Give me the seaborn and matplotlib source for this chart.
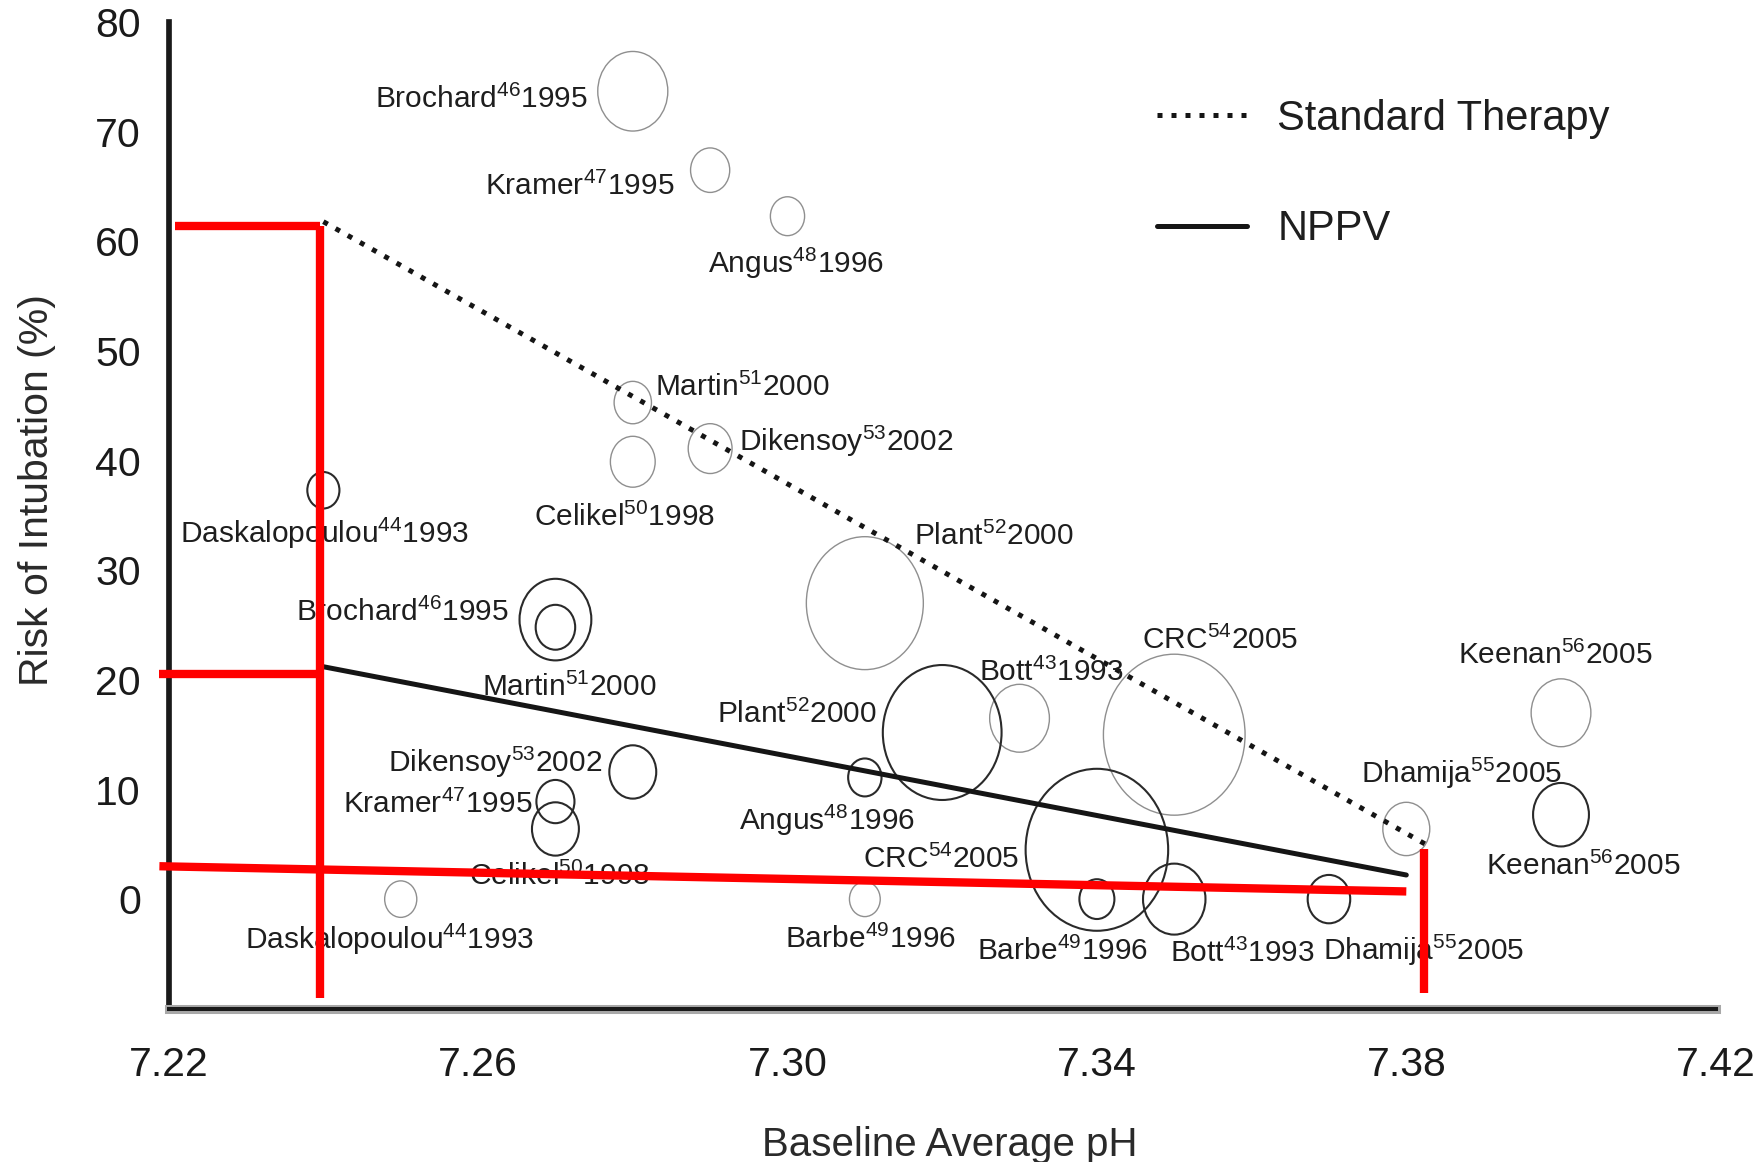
import numpy as np
import pandas as pd
import matplotlib
matplotlib.use("Agg")
import matplotlib.pyplot as plt
import matplotlib.patheffects as pe
from matplotlib.path import Path
from matplotlib.markers import MarkerStyle
from matplotlib.transforms import Affine2D
import seaborn as sns

# --- data ---
std_study = ["Brochard$^{46}$1995", "Kramer$^{47}$1995", "Angus$^{48}$1996",
             "Martin$^{51}$2000", "Dikensoy$^{53}$2002", "Celikel$^{50}$1998",
             "Plant$^{52}$2000", "Bott$^{43}$1993", "CRC$^{54}$2005",
             "Keenan$^{56}$2005", "Dhamija$^{55}$2005", "Barbe$^{49}$1996",
             "Daskalopoulou$^{44}$1993"]
std_ph = [7.28, 7.29, 7.30, 7.28, 7.29, 7.28, 7.31, 7.33, 7.35, 7.40, 7.38, 7.31, 7.25]
std_risk = [73.7, 66.5, 62.3, 45.3, 41.1, 39.9, 27.0, 16.5, 15.0, 17.0, 6.4, 0.0, 0.0]
std_n = [176, 55, 42, 50, 69, 72, 491, 128, 720, 128, 79, 34, 37]

nppv_study = ["Brochard$^{46}$1995", "Martin$^{51}$2000", "Dikensoy$^{53}$2002",
              "Kramer$^{47}$1995", "Celikel$^{50}$1998", "Angus$^{48}$1996",
              "Plant$^{52}$2000", "CRC$^{54}$2005", "Barbe$^{49}$1996",
              "Bott$^{43}$1993", "Dhamija$^{55}$2005", "Keenan$^{56}$2005",
              "Daskalopoulou$^{44}$1993"]
nppv_ph = [7.27, 7.27, 7.28, 7.27, 7.27, 7.31, 7.32, 7.34, 7.34, 7.35, 7.37, 7.40, 7.24]
nppv_risk = [25.5, 24.8, 11.6, 8.9, 6.4, 11.1, 15.2, 4.5, 0.0, 0.0, 0.0, 7.7, 37.3]
nppv_n = [185, 56, 79, 52, 79, 40, 506, 729, 44, 140, 65, 112, 37]

# fitted trend lines
std_line_ph = [7.24, 7.3825]
std_line_risk = [61.8, 5.0]
nppv_line_ph = [7.24, 7.38]
nppv_line_risk = [21.2, 2.2]

# red guide lines drawn over the chart
guide_ph_left = 7.2395
guide_ph_right = 7.3823
guide_std_start = 61.4
guide_nppv_start = 20.5
guide_base_ph = [7.2188, 7.38]
guide_base_risk = [3.0, 0.7]
guide_bottom = -9.0

# label offsets (points) from each bubble centre
std_offsets = [(-109, -6), (-94, -12), (6, -34), (79, 11), (98, 5), (-6, -40),
               (93, 48), (23, 33), (33, 68), (-4, 41), (40, 40), (4, -29), (-8, -29)]
nppv_offsets = [(-110, 5), (10, -43), (-99, 7), (-85, -2), (3, -34), (-27, -31),
                (-105, 13), (-112, -7), (-25, -38), (49, -39), (68, -37), (16, -37),
                (1, -31)]

sns.set_style("white")
plt.rcParams["font.family"] = ["Liberation Sans", "DejaVu Sans"]
plt.rcParams["mathtext.default"] = "regular"

txt_col = "#1e1e1e"
fig = plt.figure(figsize=(17.57, 11.62), dpi=100)
ax = fig.add_axes([0.0960, 0.1319, 0.8805, 0.8490])

std_df = pd.DataFrame({"ph": std_ph, "risk": std_risk, "n": std_n})
nppv_df = pd.DataFrame({"ph": nppv_ph, "risk": nppv_risk, "n": nppv_n})

# slightly tall ellipse marker (the original is squeezed horizontally)
ell = MarkerStyle(Path.unit_circle().transformed(Affine2D().scale(0.88, 1.0)))
k = 18.66
n_all = std_n + nppv_n
size_kw = dict(size="n", sizes=(k * min(n_all), k * max(n_all)),
               size_norm=(min(n_all), max(n_all)), legend=False, marker=ell)

sns.scatterplot(data=std_df, x="ph", y="risk", ax=ax, facecolor="none",
                edgecolor="#8f8f8f", linewidth=1.0, zorder=2, **size_kw)
sns.scatterplot(data=nppv_df, x="ph", y="risk", ax=ax, facecolor="none",
                edgecolor="#2a2a2a", linewidth=1.5, zorder=2, **size_kw)

sns.lineplot(x=std_line_ph, y=std_line_risk, ax=ax, color="#151515", lw=3.6,
             linestyle=(0, (1, 1.8)), label="Standard Therapy", zorder=3)
sns.lineplot(x=nppv_line_ph, y=nppv_line_risk, ax=ax, color="#151515", lw=3.6,
             label="NPPV", zorder=3)

for lab, x, y, off in zip(std_study, std_ph, std_risk, std_offsets):
    ax.annotate(lab, (x, y), xytext=off, textcoords="offset points",
                ha="center", va="center", fontsize=21.5, color=txt_col, zorder=4)
for lab, x, y, off in zip(nppv_study, nppv_ph, nppv_risk, nppv_offsets):
    ax.annotate(lab, (x, y), xytext=off, textcoords="offset points",
                ha="center", va="center", fontsize=21.5, color=txt_col, zorder=4)

# red guides
red = dict(color="#ff0000", lw=6, solid_capstyle="butt", clip_on=False, zorder=6)
ax.plot([7.2208, guide_ph_left], [guide_std_start, guide_std_start], **red)
ax.plot([guide_ph_left, guide_ph_left], [guide_std_start, guide_bottom], **red)
ax.plot([guide_base_ph[0], guide_ph_left], [guide_nppv_start, guide_nppv_start], **red)
ax.plot(guide_base_ph, guide_base_risk, **red)
ax.plot([guide_ph_right, guide_ph_right], [std_line_risk[1] - 0.4, guide_bottom + 0.4], **red)

ax.set_xlim(7.22, 7.42)
ax.set_ylim(-10, 80)
ax.set_xticks([7.22, 7.26, 7.30, 7.34, 7.38, 7.42])
ax.set_xticklabels(["7.22", "7.26", "7.30", "7.34", "7.38", "7.42"])
ax.set_yticks(range(0, 81, 10))
ax.tick_params(axis="y", direction="out", length=12, width=3, pad=8,
               labelsize=29.5, colors="#1a1a1a")
ax.tick_params(axis="x", direction="out", length=13, width=3, pad=14,
               labelsize=29.5, colors="#1a1a1a")

for s in ["top", "right"]:
    ax.spines[s].set_visible(False)
ax.spines["left"].set_linewidth(4.1)
ax.spines["left"].set_color("#1a1a1a")
ax.spines["bottom"].set_linewidth(2.9)
ax.spines["bottom"].set_color("#1a1a1a")
ax.spines["bottom"].set_path_effects([pe.Stroke(linewidth=6.5, foreground="#a8a8a8"),
                                      pe.Normal()])

ax.set_xlabel("Baseline Average pH", fontsize=29, color="#2a2a2a")
ax.set_ylabel("Risk of Intubation (%)", fontsize=29.5, color="#2a2a2a")
ax.xaxis.set_label_coords(0.505, -0.119)
ax.yaxis.set_label_coords(-0.073, 0.526)

ax.legend(loc="upper left", bbox_to_anchor=(1157 / 1757, 1 - 99 / 1162),
          bbox_transform=fig.transFigure, frameon=False, fontsize=30,
          handlelength=2.17, handletextpad=0.72, labelspacing=1.69,
          borderpad=0, borderaxespad=0, labelcolor=txt_col)

fig.savefig("out.png", dpi=100)
